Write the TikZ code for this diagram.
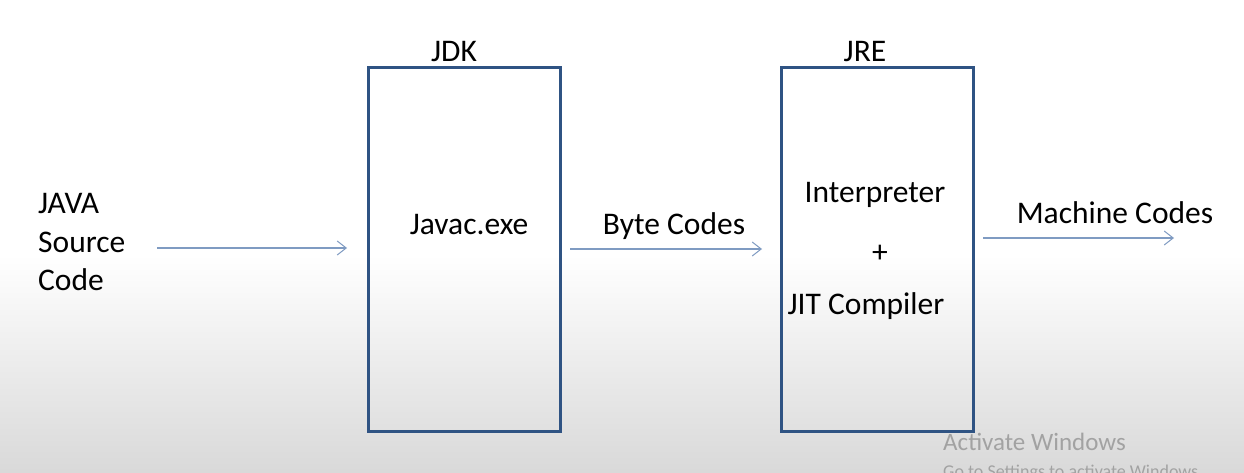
\documentclass[tikz,border=0pt]{standalone}
\usepackage{fontspec}
\setmainfont{Carlito}
\usetikzlibrary{arrows.meta}
\definecolor{boxblue}{HTML}{2F5383}
\definecolor{arrblue}{HTML}{7F9BC2}
\definecolor{wm}{HTML}{A2A2A2}
\begin{document}
\begin{tikzpicture}[x=1pt,y=-1pt,
  lbl/.style={font=\fontsize{31.5}{38}\selectfont, inner sep=0pt, anchor=base},
  bigbox/.style={draw=boxblue, line width=3pt},
  flow/.style={draw=arrblue, line width=1.1pt, -{Straight Barb[length=9pt,width=14pt,line width=1pt]}}]
\useasboundingbox (0,0) rectangle (1244,473);
\fill[white] (0,0) rectangle (1244,255);
\shade[top color=white, bottom color=black!15] (0,255) rectangle (1244,473);
% boxes
\node[bigbox, minimum width=192pt, minimum height=364pt, inner sep=0pt, anchor=north west] (jdk) at (367,66) {};
\node[bigbox, minimum width=192pt, minimum height=364pt, inner sep=0pt, anchor=north west] (jre) at (780,66) {};
\node[lbl] (jdkl) at (454,62) {JDK};
\node[lbl] (jrel) at (865,62) {JRE};
% texts
\node[lbl, anchor=base west] (src1) at (38,214) {JAVA};
\node[lbl, anchor=base west] (src2) at (38,252) {Source};
\node[lbl, anchor=base west] (src3) at (38,290) {Code};
\node[lbl] (javac) at (469,234) {Javac.exe};
\node[lbl] (byte) at (674,234) {Byte Codes};
\node[lbl] (interp) at (875,202) {Interpreter};
\node[lbl] (plus) at (880,262) {+};
\node[lbl] (jit) at (866,314) {JIT Compiler};
\node[lbl] (mach) at (1115,223) {Machine Codes};
% arrows
\coordinate (a1s) at (157,248);
\coordinate (a1e) at (347,248);
\coordinate (a2s) at (570,249);
\coordinate (a2e) at (762,249);
\coordinate (a3s) at (983,238);
\coordinate (a3e) at (1174,238);
\draw[flow] (a1s) -- (a1e);
\draw[flow] (a2s) -- (a2e);
\draw[flow] (a3s) -- (a3e);
% watermark
\node[font=\fontsize{25}{30}\selectfont, text=wm, anchor=base west, inner sep=0pt] (act) at (943,450) {Activate Windows};
\node[font=\fontsize{18}{22}\selectfont, text=wm, anchor=base west, inner sep=0pt] (go) at (943,477) {Go to Settings to activate Windows.};
\end{tikzpicture}
\end{document}
